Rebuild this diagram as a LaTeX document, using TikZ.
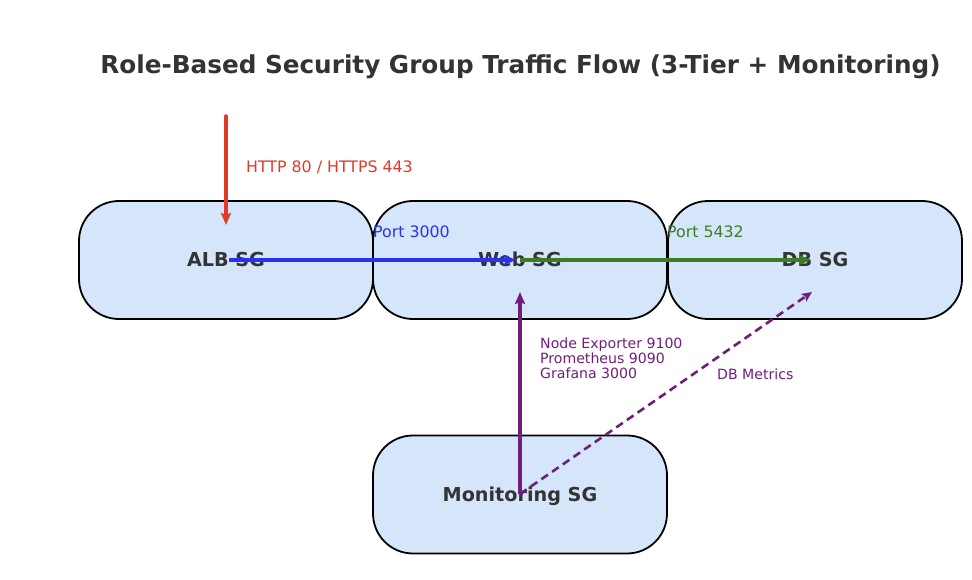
\documentclass[tikz,border=0pt]{standalone}
\usepackage{fontspec}
\setmainfont{DejaVu Sans}
\usetikzlibrary{arrows.meta}
\definecolor{boxfill}{RGB}{214,230,250}
\definecolor{txt}{RGB}{51,51,51}
\definecolor{cred}{RGB}{224,58,40}
\definecolor{cblue}{RGB}{40,50,240}
\definecolor{cgreen}{RGB}{60,125,35}
\definecolor{cpurple}{RGB}{112,30,122}
\tikzset{
  sgbox/.style={draw=black, line width=1.8pt, fill=boxfill, rounded corners=40pt,
    minimum width=294pt, minimum height=118pt, inner sep=0pt,
    font=\fontsize{19.2}{22}\selectfont\bfseries, text=txt, text height=13.9pt, text depth=0pt},
  lbl/.style={font=\fontsize{15.8}{18}\selectfont, inner sep=0pt, anchor=base west},
  flow/.style={line width=3.5pt, -{Stealth[length=12pt,width=10pt,inset=2pt]}},
}
\begin{document}
\begin{tikzpicture}[x=1pt,y=-1pt]
\useasboundingbox (0,0) rectangle (972,580);
\node[font=\fontsize{24.7}{28}\selectfont\bfseries, text=txt, inner sep=0pt, anchor=base] (title) at (520.5,74) {Role-Based Security Group Traffic Flow (3-Tier + Monitoring)};
\node[sgbox] (alb) at (226,260) {ALB SG};
\node[sgbox] (web) at (520,260) {Web SG};
\node[sgbox] (db) at (815,260) {DB SG};
\node[sgbox] (mon) at (520,494.5) {Monitoring SG};
\coordinate (inet) at (226,116);
\coordinate (albc) at (229,260);
\coordinate (webc) at (520,260);
\coordinate (dbc) at (815,260);
\coordinate (monc) at (520,494);
\draw[flow, cred, line cap=round] (inet) -- (226,225);
\draw[flow, cblue] (albc) -- (516,260);
\draw[flow, cgreen] (webc) -- (811,260);
\draw[flow, cpurple] (monc) -- (520,292);
\draw[cpurple, line width=2.6pt, dash pattern=on 8pt off 5pt, -{Stealth[length=10pt,width=9pt,inset=2pt]}] (monc) -- (812,292);
\node[lbl, text=cred] (l1) at (246,172.7) {HTTP 80 / HTTPS 443};
\node[lbl, text=cblue] (l2) at (373,237) {Port 3000};
\node[lbl, text=cgreen] (l3) at (667,237) {Port 5432};
\node[font=\fontsize{14.1}{15}\selectfont, text=cpurple, inner sep=0pt, align=left, anchor=north west] (l4) at (540,338) {Node Exporter 9100\\Prometheus 9090\\Grafana 3000};
\node[lbl, font=\fontsize{14.1}{15}\selectfont, text=cpurple] (l5) at (717,379) {DB Metrics};
\end{tikzpicture}
\end{document}
